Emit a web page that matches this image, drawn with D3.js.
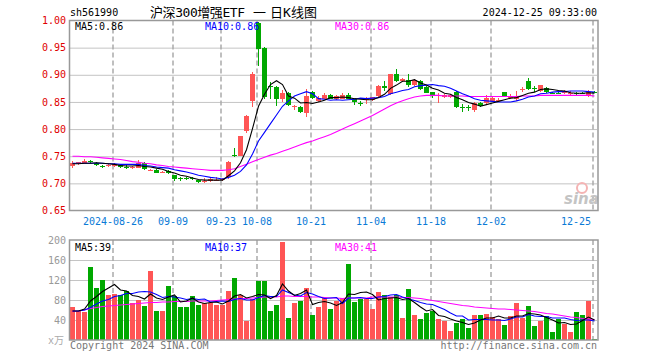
<!DOCTYPE html>
<html>
<head>
<meta charset="utf-8">
<script src="https://cdn.jsdelivr.net/npm/d3@7"></script>
<style>
	body { margin: 0; background: #fff; }
	svg text { font-family: "DejaVu Sans Mono", "Noto Sans CJK SC", monospace; font-size: 10px; }
</style>
</head>
<body>
<div id="chart"></div>
<script>
// Trading days shown (2024)
const dates = [
	"08-15","08-16","08-19","08-20","08-21","08-22","08-23","08-26","08-27","08-28",
	"08-29","08-30","09-02","09-03","09-04","09-05","09-06","09-09","09-10","09-11",
	"09-12","09-13","09-18","09-19","09-20","09-23","09-24","09-25","09-26","09-27",
	"09-30","10-08","10-09","10-10","10-11","10-14","10-15","10-16","10-17","10-18",
	"10-21","10-22","10-23","10-24","10-25","10-28","10-29","10-30","10-31","11-01",
	"11-04","11-05","11-06","11-07","11-08","11-11","11-12","11-13","11-14","11-15",
	"11-18","11-19","11-20","11-21","11-22","11-25","11-26","11-27","11-28","11-29",
	"12-02","12-03","12-04","12-05","12-06","12-09","12-10","12-11","12-12","12-13",
	"12-16","12-17","12-18","12-19","12-20","12-23","12-24","12-25"
];
const openP = [
	.732,.737,.738,.741,.738,.732,.732,.732,.734,.730,
	.728,.729,.737,.724,.725,.720,.723,.715,.709,.709,
	.709,.706,.704,.705,.706,.706,.711,.752,.751,.797,
	.852,.995,.950,.879,.878,.855,.867,.840,.841,.829,
	.869,.852,.856,.862,.855,.856,.862,.855,.848,.855,
	.854,.861,.880,.864,.901,.888,.891,.881,.888,.878,
	.868,.862,.860,.860,.869,.840,.840,.836,.848,.848,
	.852,.852,.868,.858,.855,.873,.888,.875,.870,.875,
	.867,.867,.868,.866,.866,.867,.861,.869
];
const highP = [
	.741,.740,.745,.743,.739,.734,.735,.737,.735,.733,
	.732,.743,.739,.727,.726,.722,.724,.716,.712,.711,
	.712,.707,.710,.709,.711,.709,.741,.766,.788,.826,
	.906,.998,.951,.886,.879,.872,.869,.845,.843,.874,
	.870,.861,.866,.864,.862,.866,.866,.856,.852,.860,
	.860,.881,.889,.902,.910,.894,.902,.892,.890,.880,
	.869,.866,.865,.865,.870,.846,.845,.849,.849,.863,
	.860,.857,.869,.864,.871,.878,.894,.879,.882,.877,
	.869,.869,.872,.870,.868,.869,.872,.871
];
const lowP = [
	.729,.734,.737,.737,.732,.729,.730,.731,.729,.726,
	.726,.728,.725,.723,.719,.719,.718,.705,.705,.706,
	.706,.701,.700,.703,.704,.705,.708,.749,.750,.793,
	.840,.916,.855,.855,.842,.850,.842,.836,.829,.822,
	.855,.850,.855,.855,.853,.855,.855,.845,.843,.846,
	.852,.860,.870,.862,.886,.886,.878,.879,.872,.866,
	.858,.848,.857,.857,.838,.832,.834,.831,.840,.846,
	.850,.849,.859,.855,.852,.869,.872,.869,.869,.866,
	.865,.864,.864,.862,.863,.864,.860,.866
];
const closeP = [
	.738,.739,.742,.740,.733,.731,.734,.736,.730,.729,
	.730,.738,.726,.725,.720,.721,.719,.708,.708,.708,
	.708,.702,.705,.708,.707,.708,.740,.750,.787,.825,
	.902,.948,.860,.877,.856,.867,.845,.842,.831,.861,
	.857,.858,.862,.856,.861,.862,.856,.849,.847,.856,
	.859,.880,.876,.901,.889,.893,.881,.891,.873,.867,
	.862,.863,.863,.863,.840,.839,.839,.848,.843,.858,
	.858,.853,.861,.859,.861,.874,.873,.874,.882,.868,
	.866,.866,.869,.867,.865,.866,.869,.867
];
const ma5 = [
	.736,.736,.737,.737,.738,.737,.736,.735,.733,.732,
	.732,.733,.731,.730,.728,.726,.722,.719,.715,.713,
	.710,.707,.706,.706,.706,.706,.714,.723,.738,.762,
	.801,.842,.864,.882,.889,.882,.861,.857,.848,.849,
	.847,.850,.853,.858,.858,.859,.858,.856,.855,.854,
	.854,.858,.864,.875,.881,.888,.888,.891,.885,.881,
	.875,.872,.866,.864,.858,.854,.849,.846,.842,.845,
	.848,.851,.854,.857,.858,.862,.866,.868,.873,.874,
	.873,.871,.870,.867,.866,.866,.867,.866
];
const ma10 = [
	.737,.737,.737,.737,.737,.737,.736,.736,.735,.735,
	.735,.735,.733,.732,.730,.729,.728,.725,.723,.721,
	.718,.715,.713,.711,.710,.708,.711,.715,.722,.734,
	.754,.778,.794,.810,.826,.842,.852,.861,.865,.869,
	.865,.856,.855,.853,.854,.853,.854,.855,.857,.856,
	.857,.858,.860,.865,.868,.871,.873,.878,.880,.881,
	.882,.880,.879,.875,.870,.865,.861,.856,.853,.852,
	.851,.850,.850,.850,.852,.855,.859,.861,.865,.866,
	.868,.869,.869,.870,.870,.870,.869,.868
];
const ma30 = [
	.750,.750,.749,.749,.748,.747,.746,.745,.744,.742,
	.740,.739,.737,.736,.734,.733,.731,.730,.729,.728,
	.727,.726,.725,.724,.724,.724,.725,.727,.731,.735,
	.740,.744,.748,.752,.755,.759,.763,.767,.771,.775,
	.778,.782,.786,.790,.795,.800,.805,.810,.815,.820,
	.825,.831,.837,.843,.848,.852,.856,.859,.861,.862,
	.862,.862,.861,.861,.861,.861,.860,.860,.860,.860,
	.860,.860,.860,.860,.860,.861,.861,.861,.862,.862,
	.862,.862,.862,.862,.862,.862,.862,.861
];
// Volume, in 10k units
const volume = [
	67,58,56,147,105,120,90,92,91,98,
	75,80,68,139,58,58,108,88,67,67,
	88,70,75,75,70,70,98,125,90,39,
	83,118,118,58,70,197,45,75,78,105,
	51,67,85,62,78,85,152,76,83,83,
	62,96,90,87,90,44,102,50,42,54,
	59,42,38,18,34,42,24,50,50,52,
	46,42,30,48,74,44,68,28,38,48,
	16,42,32,16,56,50,78,2
];
const volMa5 = [
	58,58,62,78,87,97,104,111,100,98,
	89,87,82,92,84,81,86,90,76,78,
	84,76,73,75,76,72,78,88,91,84,
	87,91,90,83,89,112,98,89,93,100,
	71,75,77,74,69,75,92,91,95,96,
	91,80,83,84,85,81,83,75,66,58,
	61,49,47,42,38,35,31,34,40,44,
	44,48,44,44,48,48,53,52,50,45,
	40,34,35,31,32,39,46,40
];
const volMa10 = [
	58,58,60,65,72,78,81,87,89,93,
	93,96,97,96,91,85,87,86,84,81,
	83,81,82,76,77,78,77,81,83,80,
	80,85,89,87,87,100,95,90,88,95,
	92,87,83,84,85,73,84,84,85,83,
	83,86,87,90,91,86,82,79,75,72,
	71,66,61,54,48,48,40,41,41,41,
	40,40,39,42,46,46,51,48,47,47,
	44,44,44,41,39,40,40,38
];
const volMa30 = [
	57,58,60,63,65,67,68,69,70,71,
	72,73,74,75,75,76,76,77,77,77,
	78,78,78,78,79,80,81,82,83,83,
	84,85,86,86,86,88,88,87,87,87,
	86,86,85,84,84,83,84,84,84,84,
	86,86,86,86,86,85,85,84,83,81,
	79,77,75,73,71,69,68,66,65,64,
	63,62,62,61,60,59,58,57,55,53,
	52,50,48,46,45,43,42,41
];
const tickDates = ["08-26","09-09","09-23","10-08","10-21","11-04","11-18","12-02","12-25"];
const tickLabels = ["2024-08-26","09-09","09-23","10-08","10-21","11-04","11-18","12-02","12-25"];
const priceTicks = [0.65, 0.70, 0.75, 0.80, 0.85, 0.90, 0.95, 1.00];
const volumeTicks = [40, 80, 120, 160, 200];

(function (d3) {
	"use strict";

	const UP = "#ff5555", DOWN = "#00a800";
	const left = 69.5, right = 597.5;

	const svg = d3.select("#chart")
		.append("svg")
		.attr("width", 660)
		.attr("height", 360);

	/*** scales ***/
	const x = d3.scaleBand()
		.domain(dates)
		.range([left, right])
		.paddingInner(1 / 6)
		.paddingOuter(1 / 12);
	const yPrice = d3.scaleLinear().domain([0.65, 1.0]).range([210.5, 20.5]);
	const yVol = d3.scaleLinear().domain([0, 200]).range([340, 240]);
	const mid = d => x(d) + x.bandwidth() / 2;

	/**
	 * Grille d'un panneau : pointilles horizontaux + tirets verticaux
	 */
	function drawGrid(yScale, values, top, bottom) {
		svg.append("g")
			.attr("transform", "translate(" + left + ",0)")
			.call(d3.axisLeft(yScale).tickValues(values).tickSize(-(right - left)).tickFormat(""))
			.call(g => g.select(".domain").remove())
			.selectAll("line")
			.attr("stroke", "#888")
			.attr("stroke-dasharray", "1,1");

		svg.append("g")
			.selectAll("line")
			.data(tickDates)
			.enter()
			.append("line")
			.attr("x1", d => x(d) + 1)
			.attr("x2", d => x(d) + 1)
			.attr("y1", top)
			.attr("y2", bottom)
			.attr("stroke", "#aaa")
			.attr("stroke-width", 1.5)
			.attr("stroke-dasharray", "5,3");
	}

	function drawFrame(top, bottom) {
		svg.append("rect")
			.attr("x", left)
			.attr("y", top)
			.attr("width", right - left + 0.5)
			.attr("height", bottom - top)
			.attr("fill", "none")
			.attr("stroke", "#999")
			.attr("stroke-width", 1.5);
	}

	function drawLine(values, yScale, color) {
		const line = d3.line()
			.x((d, i) => mid(dates[i]))
			.y(d => yScale(d));
		svg.append("path")
			.datum(values)
			.attr("d", line)
			.attr("fill", "none")
			.attr("stroke", color)
			.attr("stroke-width", 1.1);
	}

	function label(xPos, yPos, text, color, anchor) {
		return svg.append("text")
			.attr("x", xPos)
			.attr("y", yPos)
			.attr("fill", color)
			.attr("text-anchor", anchor || "start")
			.text(text);
	}

	/*** price panel ***/
	drawGrid(yPrice, [0.70, 0.75, 0.80, 0.85, 0.90, 0.95], 20.5, 210.5);

	// watermark
	svg.append("circle")
		.attr("cx", 582).attr("cy", 188).attr("r", 5)
		.attr("fill", "none").attr("stroke", "#f4b4b4").attr("stroke-width", 2);
	svg.append("text")
		.attr("x", 564).attr("y", 204)
		.attr("fill", "#c4c4c4")
		.style("font-family", "'DejaVu Sans', sans-serif")
		.style("font-size", "15px")
		.style("font-weight", "bold")
		.style("font-style", "italic")
		.text("sina");

	const candles = svg.append("g")
		.attr("shape-rendering", "crispEdges")
		.selectAll("g")
		.data(dates)
		.enter()
		.append("g");

	candles.append("line")
		.attr("x1", d => mid(d))
		.attr("x2", d => mid(d))
		.attr("y1", (d, i) => yPrice(highP[i]))
		.attr("y2", (d, i) => yPrice(lowP[i]))
		.attr("stroke", (d, i) => closeP[i] > openP[i] ? UP : DOWN);

	candles.append("rect")
		.attr("x", d => x(d))
		.attr("width", x.bandwidth())
		.attr("y", (d, i) => yPrice(Math.max(openP[i], closeP[i])))
		.attr("height", (d, i) => Math.max(1, Math.abs(yPrice(openP[i]) - yPrice(closeP[i]))))
		.attr("fill", (d, i) => closeP[i] > openP[i] ? UP : DOWN);

	drawLine(ma30, yPrice, "#ff00ff");
	drawLine(ma10, yPrice, "#0000ff");
	drawLine(ma5, yPrice, "#000");
	drawFrame(20.5, 210.5);

	// price axis
	svg.append("g")
		.attr("transform", "translate(" + left + ",0)")
		.call(d3.axisLeft(yPrice).tickValues(priceTicks).tickFormat(d3.format(".2f")).tickSize(0).tickPadding(3.5))
		.call(g => g.select(".domain").remove())
		.selectAll("text")
		.attr("fill", "#e00000")
		.style("font-size", "10px")
		.style("font-family", "'DejaVu Sans Mono', monospace");

	// date axis; the last label is kept inside the frame
	svg.append("g")
		.attr("transform", "translate(-1.5,210.5)")
		.call(d3.axisBottom(x).tickValues(tickDates).tickFormat(d => tickLabels[tickDates.indexOf(d)]).tickSize(0).tickPadding(7.5))
		.call(g => g.select(".domain").remove())
		.selectAll("text")
		.attr("fill", "#0a7ad6")
		.attr("text-anchor", d => d === "12-25" ? "end" : "middle")
		.attr("x", d => d === "12-25" ? -2 : 0)
		.style("font-size", "10px")
		.style("font-family", "'DejaVu Sans Mono', monospace");

	/*** volume panel ***/
	drawGrid(yVol, [40, 80, 120, 160], 240, 340);

	svg.append("g")
		.attr("shape-rendering", "crispEdges")
		.selectAll("rect")
		.data(dates)
		.enter()
		.append("rect")
		.attr("x", d => x(d))
		.attr("width", x.bandwidth())
		.attr("y", (d, i) => yVol(volume[i]))
		.attr("height", (d, i) => yVol(0) - yVol(volume[i]))
		.attr("fill", (d, i) => closeP[i] > openP[i] ? UP : DOWN);

	drawLine(volMa30, yVol, "#ff00ff");
	drawLine(volMa10, yVol, "#0000ff");
	drawLine(volMa5, yVol, "#000");
	drawFrame(240, 340);

	svg.append("g")
		.attr("transform", "translate(" + left + ",0)")
		.call(d3.axisLeft(yVol).tickValues(volumeTicks).tickSize(0).tickPadding(3.5))
		.call(g => g.select(".domain").remove())
		.selectAll("text")
		.attr("fill", "#999")
		.style("font-size", "10px")
		.style("font-family", "'DejaVu Sans Mono', monospace");

	/*** texts ***/
	label(70, 16, "sh561990", "#000");
	const title = svg.append("text")
		.attr("y", 17)
		.attr("fill", "#000")
		.style("font-size", "13px");
	title.append("tspan").attr("x", 150).attr("textLength", 95).text("沪深300增强ETF");
	title.append("tspan").attr("x", 253).text("一");
	title.append("tspan").attr("x", 270).attr("textLength", 47).text("日K线图");
	label(597, 16, "2024-12-25 09:33:00", "#000", "end");

	label(75, 30, "MA5:0.86", "#000");
	label(205, 30, "MA10:0.86", "#0000ff");
	label(335, 30, "MA30:0.86", "#ff00ff");

	label(75, 251, "MA5:39", "#000");
	label(205, 251, "MA10:37", "#0000ff");
	label(335, 251, "MA30:41", "#ff00ff");

	label(64, 344, "x万", "#aaa", "end");
	label(70, 349, "Copyright 2024 SINA.COM", "#777");
	label(597, 349, "http://finance.sina.com.cn", "#777", "end");

})(d3);
</script>
</body>
</html>
